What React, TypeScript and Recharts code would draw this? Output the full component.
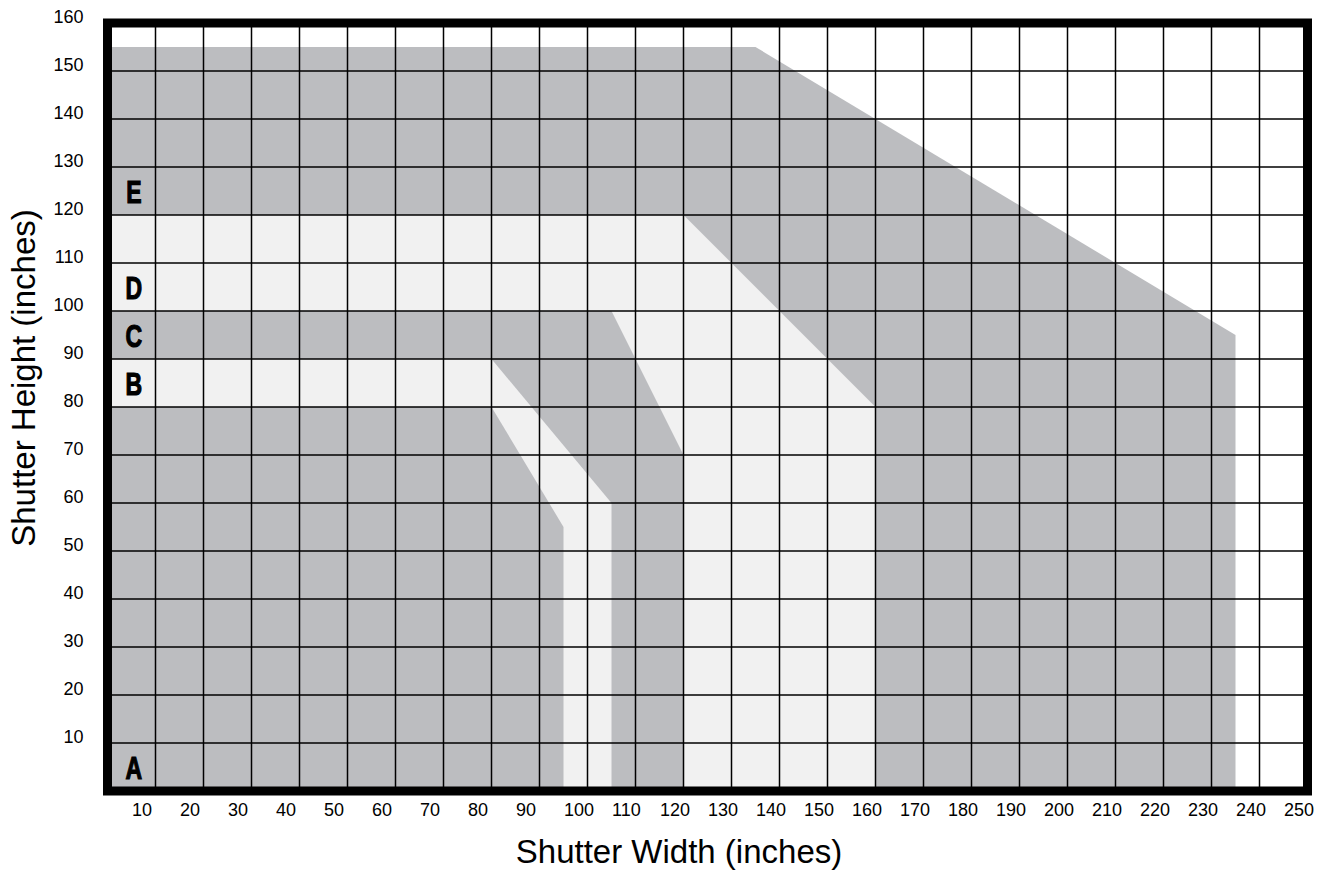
import {
  ComposedChart,
  Area,
  XAxis,
  YAxis,
  ReferenceLine,
  ReferenceArea,
  ReferenceDot,
  Label,
} from 'recharts';

// Shutter width (x) and height (y) tick values, inches
const X_TICKS = [10, 20, 30, 40, 50, 60, 70, 80, 90, 100, 110, 120, 130, 140, 150, 160, 170, 180, 190, 200, 210, 220, 230, 240, 250];
const Y_TICKS = [10, 20, 30, 40, 50, 60, 70, 80, 90, 100, 110, 120, 130, 140, 150, 160];

// Outline of each size zone (width, height), painted E first, A last
const ZONE_E = [{ w: 0, h: 155 }, { w: 135, h: 155 }, { w: 235, h: 95 }, { w: 235, h: 0 }];
const ZONE_D = [{ w: 0, h: 120 }, { w: 120, h: 120 }, { w: 160, h: 80 }, { w: 160, h: 0 }];
const ZONE_C = [{ w: 0, h: 100 }, { w: 105, h: 100 }, { w: 120, h: 70 }, { w: 120, h: 0 }];
const ZONE_B = [{ w: 0, h: 90 }, { w: 80, h: 90 }, { w: 105, h: 60 }, { w: 105, h: 0 }];
const ZONE_A = [{ w: 0, h: 80 }, { w: 80, h: 80 }, { w: 95, h: 55 }, { w: 95, h: 0 }];

const ZONE_NAMES = ['E', 'D', 'C', 'B', 'A'];
const ZONE_NAME_H = [125, 105, 95, 85, 5];
const ZONE_NAME_W = 5.5;

const DARK = '#bcbdc0';
const LIGHT = '#f1f1f1';

const ZONES = [
  { id: 'E', data: ZONE_E, fill: DARK },
  { id: 'D', data: ZONE_D, fill: LIGHT },
  { id: 'C', data: ZONE_C, fill: DARK },
  { id: 'B', data: ZONE_B, fill: LIGHT },
  { id: 'A', data: ZONE_A, fill: DARK },
];

const FONT = "'Liberation Sans', Arial, Helvetica, sans-serif";

const XTick = ({ x, y, payload }: any) => (
  <text x={x - 23.5} y={y + 25} textAnchor="start" fontSize={18} fontFamily={FONT} fill="#000">
    {payload.value}
  </text>
);

const YTick = ({ x, y, payload }: any) => (
  <text x={x} y={y} textAnchor="end" fontSize={18} fontFamily={FONT} fill="#000">
    {payload.value}
  </text>
);

// heavy condensed letter: bold face squeezed horizontally
const ZoneLetter = (text: string) => (p: any) => (
  <text
    transform={`translate(${p.cx}, ${p.cy + 11.5}) scale(0.72, 1)`}
    x={0}
    y={0}
    textAnchor="middle"
    fontSize={32}
    fontWeight="bold"
    fontFamily={FONT}
    fill="#000"
    stroke="#000"
    strokeWidth={1.2}
  >
    {text}
  </text>
);

export default function App() {
  return (
    <div style={{ position: 'absolute', left: 0, top: 0, width: 1325, height: 873, background: '#fff' }}>
      <ComposedChart width={1325} height={873} margin={{ top: 23, right: 17.5, bottom: 81, left: 106.5 }}>
        <XAxis
          type="number"
          dataKey="w"
          domain={[0, 250]}
          ticks={X_TICKS}
          height={1}
          axisLine={false}
          tickLine={false}
          tickSize={0}
          tickMargin={0}
          tick={<XTick />}
          interval={0}
        >
          <Label
            content={({ viewBox }: any) => (
              <text
                x={viewBox.x + viewBox.width / 2 - 28.5}
                y={viewBox.y + 72}
                textAnchor="middle"
                fontSize={33}
                fontFamily={FONT}
                fill="#000"
              >
                Shutter Width (inches)
              </text>
            )}
          />
        </XAxis>
        <YAxis
          type="number"
          dataKey="h"
          domain={[0, 160]}
          ticks={Y_TICKS}
          width={1}
          axisLine={false}
          tickLine={false}
          tickSize={0}
          tickMargin={24}
          tick={<YTick />}
          interval={0}
        >
          <Label
            content={({ viewBox }: any) => {
              const cx = viewBox.x + viewBox.width - 72.5;
              const cy = viewBox.y + 355;
              return (
                <text
                  x={cx}
                  y={cy}
                  textAnchor="middle"
                  fontSize={33}
                  fontFamily={FONT}
                  fill="#000"
                  transform={`rotate(-90, ${cx}, ${cy})`}
                >
                  Shutter Height (inches)
                </text>
              );
            }}
          />
        </YAxis>
        {ZONES.map(z => (
          <Area
            key={z.id}
            data={z.data}
            dataKey="h"
            type="linear"
            stroke="none"
            fill={z.fill}
            fillOpacity={1}
            dot={false}
            activeDot={false}
            isAnimationActive={false}
          />
        ))}
        {X_TICKS.map(v => (
          <ReferenceLine key={`gx${v}`} x={v} stroke="#000" strokeWidth={1.5} />
        ))}
        {Y_TICKS.map(v => (
          <ReferenceLine key={`gy${v}`} y={v} stroke="#000" strokeWidth={1.5} />
        ))}
        <ReferenceArea x1={0} x2={250} y1={0} y2={160} fill="none" stroke="#000" strokeWidth={9} />
        {ZONE_NAMES.map((n, i) => (
          <ReferenceDot key={n} x={ZONE_NAME_W} y={ZONE_NAME_H[i]} r={0} shape={ZoneLetter(n)} />
        ))}
      </ComposedChart>
    </div>
  );
}
